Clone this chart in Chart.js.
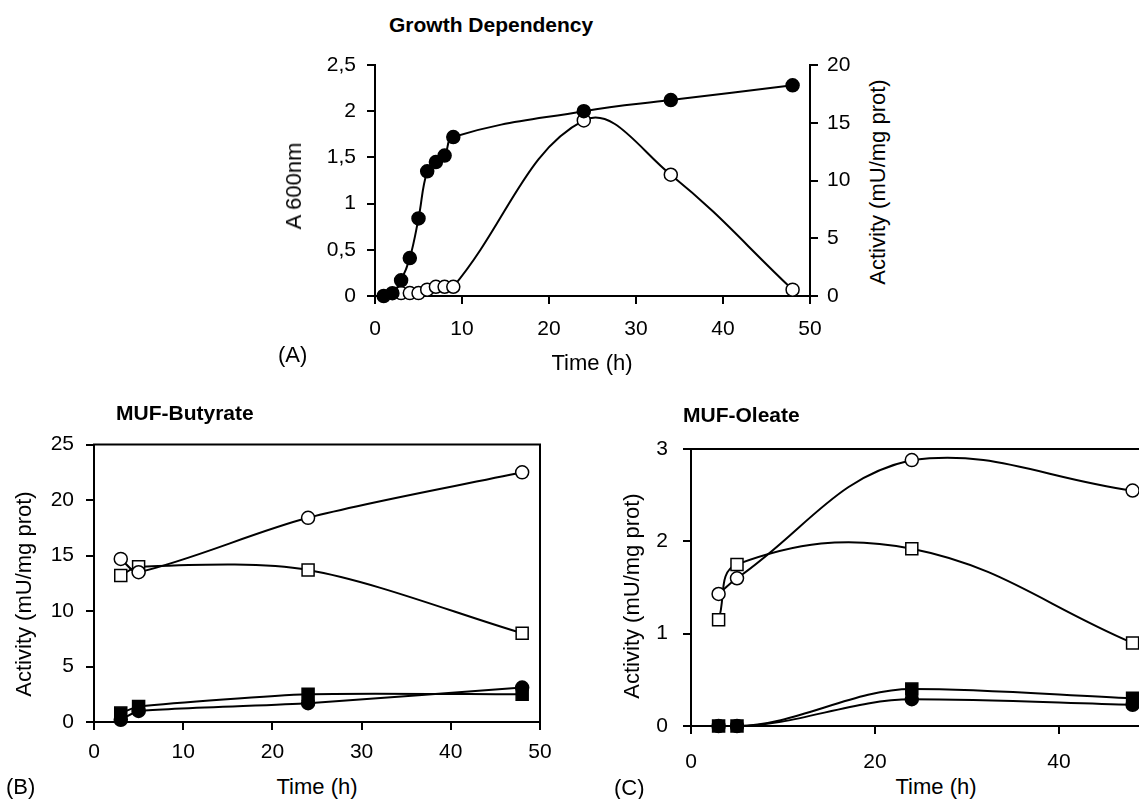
<!DOCTYPE html>
<html>
<head>
<meta charset="utf-8">
<title>Growth dependency and esterase activity</title>
<script src="https://cdn.jsdelivr.net/npm/chart.js@4.4.1/dist/chart.umd.min.js"></script>
<style>
  html, body { margin: 0; padding: 0; background: #fff; }
  body { width: 1139px; height: 799px; overflow: hidden; position: relative;
         font-family: 'Liberation Sans', Arial, sans-serif; color: #000; }
  canvas { position: absolute; }
  .lbl { position: absolute; white-space: nowrap; font-size: 22px; line-height: 24px; }
  .ttl { position: absolute; white-space: nowrap; font-size: 21px; font-weight: bold; line-height: 24px; }
  .ctr { transform: translate(-50%, -50%); }
  .rot { transform: translate(-50%, -50%) rotate(-90deg); }
</style>
</head>
<body>

<canvas id="chartA" width="560" height="320" style="left:300px;top:40px"></canvas>
<canvas id="chartB" width="580" height="340" style="left:0px;top:420px"></canvas>
<canvas id="chartC" width="600" height="350" style="left:600px;top:420px"></canvas>

<div class="ttl" style="left:389px;top:13px">Growth Dependency</div>
<div class="lbl rot" style="left:294px;top:186px">A 600nm</div>
<div class="lbl rot" style="left:878px;top:182px">Activity (mU/mg prot)</div>
<div class="lbl ctr" style="left:592px;top:363px">Time (h)</div>
<div class="lbl" style="left:278px;top:343px">(A)</div>

<div class="ttl" style="left:116px;top:401px">MUF-Butyrate</div>
<div class="lbl rot" style="left:24px;top:594px">Activity (mU/mg prot)</div>
<div class="lbl ctr" style="left:317px;top:787px">Time (h)</div>
<div class="lbl" style="left:6px;top:775px">(B)</div>

<div class="ttl" style="left:683px;top:403px">MUF-Oleate</div>
<div class="lbl rot" style="left:632px;top:596px">Activity (mU/mg prot)</div>
<div class="lbl ctr" style="left:936px;top:787px">Time (h)</div>
<div class="lbl" style="left:614px;top:776px">(C)</div>

<script>
// --- data ---
// (A) growth dependency
const aHours     = [1, 2, 3, 4, 5, 6, 7, 8, 9, 24, 34, 48];
const aA600      = [0.0, 0.03, 0.17, 0.41, 0.84, 1.35, 1.45, 1.52, 1.72, 2.0, 2.12, 2.28];
const aActHours  = [3, 4, 5, 6, 7, 8, 9, 24, 34, 48];
const aActivity  = [0.25, 0.25, 0.25, 0.55, 0.8, 0.8, 0.8, 15.2, 10.5, 0.55];
const aLeftTicks  = ['0', '0,5', '1', '1,5', '2', '2,5'];
const aRightTicks = ['0', '5', '10', '15', '20'];
const aTimeTicks  = ['0', '10', '20', '30', '40', '50'];

// (B) MUF-Butyrate
const bHours        = [3, 5, 24, 48];
const bOpenCircle   = [14.7, 13.5, 18.4, 22.5];
const bOpenSquare   = [13.2, 14.0, 13.7, 8.0];
const bFilledSquare = [0.8, 1.4, 2.5, 2.5];
const bFilledCircle = [0.2, 1.0, 1.7, 3.1];
const bYTicks       = ['0', '5', '10', '15', '20', '25'];
const bTimeTicks    = ['0', '10', '20', '30', '40', '50'];

// (C) MUF-Oleate
const cHours        = [3, 5, 24, 48];
const cOpenCircle   = [1.43, 1.6, 2.88, 2.55];
const cOpenSquare   = [1.15, 1.75, 1.92, 0.9];
const cFilledSquare = [0, 0, 0.4, 0.3];
const cFilledCircle = [0, 0, 0.29, 0.23];
const cYTicks       = ['0', '1', '2', '3'];
const cTimeTicks    = ['0', '20', '40'];

const FONT = { family: "'Liberation Sans', Arial, sans-serif", size: 21 };
Chart.defaults.font.family = FONT.family;
Chart.defaults.color = '#000';

const toPoints = (xs, ys) => xs.map((x, i) => ({ x, y: ys[i] }));

// marker styles
function series(xs, ys, kind, extra) {
  const filled = kind === 'filledCircle' || kind === 'filledSquare';
  const square = kind === 'openSquare' || kind === 'filledSquare';
  return Object.assign({
    data: toPoints(xs, ys),
    borderColor: '#000',
    borderWidth: 2,
    tension: 0.4,
    pointStyle: square ? 'rect' : 'circle',
    pointRadius: square ? 8.5 : 6.5,
    pointBorderWidth: 1.5,
    pointBorderColor: '#000',
    pointBackgroundColor: filled ? '#000' : '#fff',
    clip: false
  }, extra || {});
}

function tickMarks() {
  return { display: true, drawOnChartArea: false, drawTicks: true, tickLength: 8, color: '#000', lineWidth: 2 };
}

function linearAxis(pos, min, max, step, labels, padding, size) {
  return {
    type: 'linear',
    position: pos,
    min, max,
    ticks: {
      stepSize: step,
      padding,
      font: FONT,
      color: '#000',
      autoSkip: false,
      maxRotation: 0,
      callback: (v, i) => labels[i]
    },
    grid: tickMarks(),
    border: { display: true, color: '#000', width: 2 },
    afterFit: (s) => { if (s.isHorizontal()) s.height = size; else s.width = size; }
  };
}

// draws the top (and right) sides of the plot box
const framePlugin = {
  id: 'frame',
  afterDraw(chart, args, opts) {
    if (!opts.sides) return;
    const { ctx, chartArea: a } = chart;
    ctx.save();
    ctx.strokeStyle = '#000';
    ctx.lineWidth = 2;
    ctx.beginPath();
    if (opts.sides.includes('top')) { ctx.moveTo(a.left - 1, a.top); ctx.lineTo(a.right + 1, a.top); }
    if (opts.sides.includes('right')) { ctx.moveTo(a.right, a.top); ctx.lineTo(a.right, a.bottom); }
    ctx.stroke();
    ctx.restore();
  }
};

const baseOptions = {
  responsive: false,
  animation: false,
  events: [],
  plugins: { legend: { display: false }, tooltip: { enabled: false } }
};

// (A)
new Chart(document.getElementById('chartA'), {
  type: 'line',
  data: { datasets: [
    series(aHours, aA600, 'filledCircle', { yAxisID: 'y' }),
    series(aActHours, aActivity, 'openCircle', { yAxisID: 'y2' })
  ]},
  options: Object.assign({}, baseOptions, {
    layout: { padding: { top: 25, right: 0, bottom: 0, left: 0 } },
    scales: {
      x: linearAxis('bottom', 0, 50, 10, aTimeTicks, 13, 64),
      y: linearAxis('left', 0, 2.5, 0.5, aLeftTicks, 11, 75),
      y2: linearAxis('right', 0, 20, 5, aRightTicks, 9, 50)
    }
  })
});

// (B)
new Chart(document.getElementById('chartB'), {
  type: 'line',
  data: { datasets: [
    series(bHours, bOpenCircle, 'openCircle', { tension: 0.3 }),
    series(bHours, bOpenSquare, 'openSquare', { tension: 0.3 }),
    series(bHours, bFilledSquare, 'filledSquare', { tension: 0.2 }),
    series(bHours, bFilledCircle, 'filledCircle', { tension: 0.2 })
  ]},
  options: Object.assign({}, baseOptions, {
    layout: { padding: { top: 21, right: 40, bottom: 0, left: 0 } },
    plugins: Object.assign({}, baseOptions.plugins, { frame: { sides: ['top', 'right'] } }),
    scales: {
      x: linearAxis('bottom', 0, 50, 10, bTimeTicks, 10, 38),
      y: linearAxis('left', 0, 25, 5, bYTicks, 12, 94)
    }
  }),
  plugins: [framePlugin]
});

// (C)
new Chart(document.getElementById('chartC'), {
  type: 'line',
  data: { datasets: [
    series(cHours, cOpenCircle, 'openCircle'),
    series(cHours, cOpenSquare, 'openSquare'),
    series(cHours, cFilledSquare, 'filledSquare', { cubicInterpolationMode: 'monotone' }),
    series(cHours, cFilledCircle, 'filledCircle', { cubicInterpolationMode: 'monotone' })
  ]},
  options: Object.assign({}, baseOptions, {
    layout: { padding: { top: 29, right: 49, bottom: 0, left: 0 } },
    plugins: Object.assign({}, baseOptions.plugins, { frame: { sides: ['top', 'right'] } }),
    scales: {
      x: linearAxis('bottom', 0, 50, 20, cTimeTicks, 16, 44),
      y: linearAxis('left', 0, 3, 1, cYTicks, 15, 91)
    }
  }),
  plugins: [framePlugin]
});
</script>
</body>
</html>
